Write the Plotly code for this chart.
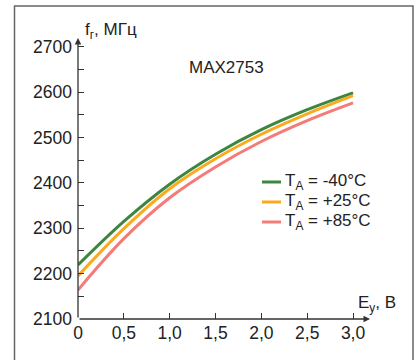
import plotly.graph_objects as go

# ---- data ----
E_V = [0.0, 0.5, 1.0, 1.5, 2.0, 2.5, 3.0]
f_m40 = [2219, 2315, 2397, 2463, 2517, 2561, 2598]
f_p25 = [2195, 2299, 2387, 2453, 2507, 2552, 2592]
f_p85 = [2164, 2277, 2367, 2435, 2491, 2537, 2576]
series_names = ["T<sub>A</sub> = -40°C", "T<sub>A</sub> = +25°C", "T<sub>A</sub> = +85°C"]
series_colors = ["#3E8540", "#FBAA1E", "#F47B78"]
x_tickvals = [0, 0.5, 1.0, 1.5, 2.0, 2.5, 3.0]
x_ticktext = ["0", "0,5", "1,0", "1,5", "2,0", "2,5", "3,0"]
y_tickvals = list(range(2100, 2701, 50))
y_ticktext = [str(v) if v % 100 == 0 else "" for v in y_tickvals]

W, H = 420, 360
ML, MR, MT, MB = 78, 50, 38, 41
PW, PH = W - ML - MR, H - MT - MB
XMAX, YMIN, YMAX = 3.185, 2100, 2719

def px(xp):
    return (xp - ML) / PW

def py(yp):
    return (H - MB - yp) / PH

FONT = "Liberation Sans"
TXT = "#222222"
FS = 17.5

fig = go.Figure()
for ys, name, col in zip([f_m40, f_p25, f_p85], series_names, series_colors):
    fig.add_trace(go.Scatter(x=E_V, y=ys, mode="lines", name=name,
                             line=dict(color=col, width=3, shape="spline", smoothing=1.0),
                             showlegend=False))

fig.update_layout(
    width=W, height=H,
    margin=dict(l=ML, r=MR, t=MT, b=MB, autoexpand=False),
    paper_bgcolor="white", plot_bgcolor="white",
    font=dict(family=FONT, size=FS, color=TXT),
    xaxis=dict(range=[0, XMAX], showgrid=False, zeroline=False, showline=False,
               tickvals=x_tickvals, ticktext=x_ticktext, ticks="inside", ticklen=6,
               tickwidth=1.3, tickcolor="#333", tickfont=dict(size=FS, color=TXT),
               ticklabelstandoff=1, automargin=False),
    yaxis=dict(range=[YMIN, YMAX], showgrid=False, zeroline=False, showline=False,
               tickvals=y_tickvals, ticktext=y_ticktext, ticks="inside", ticklen=6,
               tickwidth=1.3, tickcolor="#333", tickfont=dict(size=FS, color=TXT),
               ticklabelstandoff=5, automargin=False),
)

# axis lines with arrows
fig.add_annotation(x=XMAX, y=YMIN, ax=0, ay=YMIN, xref="x", yref="y", axref="x", ayref="y",
                   showarrow=True, arrowhead=2, arrowsize=1, arrowwidth=1.3, arrowcolor="#333",
                   text="", standoff=0)
fig.add_annotation(x=0, y=YMAX, ax=0, ay=YMIN, xref="x", yref="y", axref="x", ayref="y",
                   showarrow=True, arrowhead=2, arrowsize=1, arrowwidth=1.3, arrowcolor="#333",
                   text="", standoff=0)

# frame
fig.add_shape(type="rect", xref="paper", yref="paper",
              x0=px(14.5), x1=px(413), y0=py(365), y1=py(6),
              line=dict(color="#666", width=1.5), fillcolor="rgba(0,0,0,0)", layer="below")

# axis titles
fig.add_annotation(xref="paper", yref="paper", x=px(83), y=py(31), text="f<sub>г</sub>, МГц",
                   showarrow=False, xanchor="left", yanchor="middle", font=dict(size=17, color=TXT))
fig.add_annotation(xref="paper", yref="paper", x=px(356), y=py(304), text="E<sub>у</sub>, В",
                   showarrow=False, xanchor="left", yanchor="middle", font=dict(size=17, color=TXT))
fig.add_annotation(xref="paper", yref="paper", x=px(226), y=py(67), text="MAX2753",
                   showarrow=False, xanchor="center", yanchor="middle", font=dict(size=17, color=TXT))

# legend
rows = [182, 202, 222]
for name, col, ry in zip(series_names, series_colors, rows):
    fig.add_shape(type="line", xref="paper", yref="paper", x0=px(262), x1=px(281),
                  y0=py(ry), y1=py(ry), line=dict(color=col, width=3))
    fig.add_annotation(xref="paper", yref="paper", x=px(283), y=py(ry), text=name,
                       showarrow=False, xanchor="left", yanchor="middle", font=dict(size=17, color=TXT))

fig.write_html("out.html", config={"displayModeBar": False},
               post_script="document.body.style.margin='0';document.body.style.overflow='hidden';")
